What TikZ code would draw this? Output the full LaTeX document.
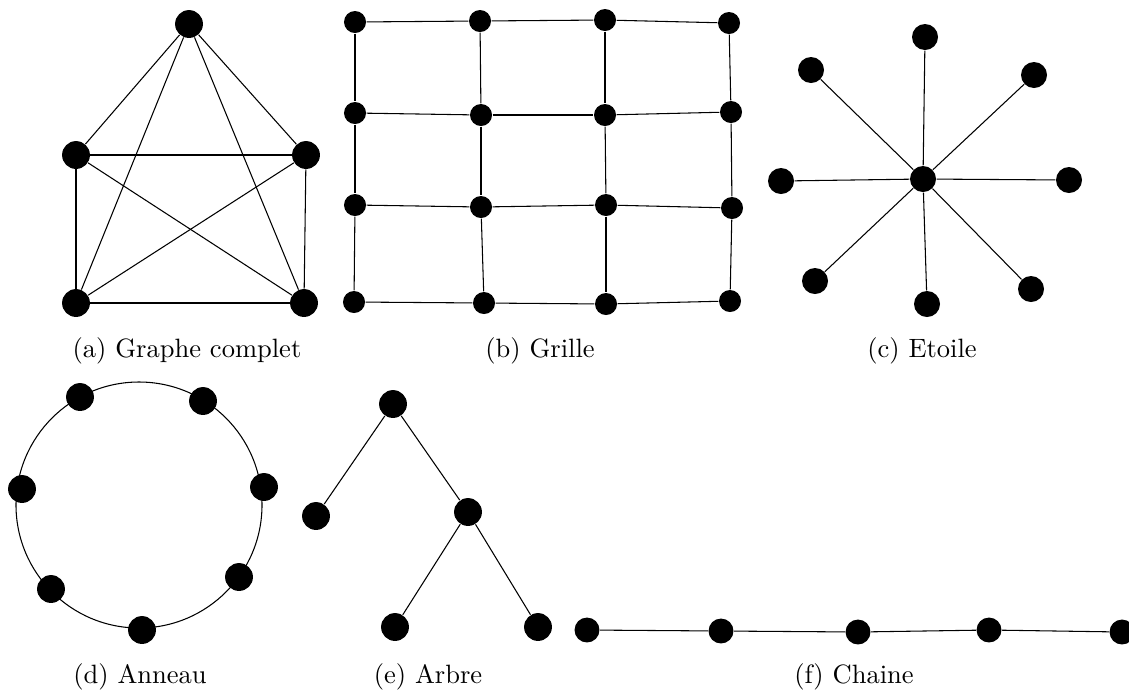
\documentclass[tikz,border=0pt]{standalone}
\usepackage{tikz}
\usetikzlibrary{positioning}

\begin{document}
\begin{tikzpicture}[x=0.377pt,y=-0.377pt,
	vtx/.style={shape=circle,fill=black,inner sep=0pt,minimum size=#1},
	vtx/.default=10.5pt,
	legende/.style={anchor=base}]
	\tikzstyle{every node}=[font=\normalsize]
	\useasboundingbox (0,0) rectangle (1129,690);

	% (a) graphe complet
	\node[vtx] (k1) at (189,24) {};
	\node[vtx] (k2) at (76,155) {};
	\node[vtx] (k3) at (306,155) {};
	\node[vtx] (k4) at (76,303) {};
	\node[vtx] (k5) at (304,303) {};
	\draw
	(k1) edge (k2) (k1) edge (k3) (k1) edge (k4) (k1) edge (k5)
	(k2) edge (k3) (k2) edge (k4) (k2) edge (k5)
	(k3) edge (k4) (k3) edge (k5)
	(k4) edge (k5)
	;
	\node[legende] (capa) at (187,357) {(a) Graphe complet};

	% (b) grille
	\node[vtx=8.3pt] (g11) at (355,22) {};
	\node[vtx=8.3pt] (g12) at (480,21) {};
	\node[vtx=8.3pt] (g13) at (605,20) {};
	\node[vtx=8.3pt] (g14) at (729,23) {};
	\node[vtx=8.3pt] (g21) at (355,113) {};
	\node[vtx=8.3pt] (g22) at (481,115) {};
	\node[vtx=8.3pt] (g23) at (605,115) {};
	\node[vtx=8.3pt] (g24) at (731,112) {};
	\node[vtx=8.3pt] (g31) at (355,205) {};
	\node[vtx=8.3pt] (g32) at (481,207) {};
	\node[vtx=8.3pt] (g33) at (606,205) {};
	\node[vtx=8.3pt] (g34) at (732,208) {};
	\node[vtx=8.3pt] (g41) at (354,302) {};
	\node[vtx=8.3pt] (g42) at (484,303) {};
	\node[vtx=8.3pt] (g43) at (606,304) {};
	\node[vtx=8.3pt] (g44) at (730,301) {};
	\draw
	(g11) edge (g12) (g12) edge (g13) (g13) edge (g14)
	(g21) edge (g22) (g22) edge (g23) (g23) edge (g24)
	(g31) edge (g32) (g32) edge (g33) (g33) edge (g34)
	(g41) edge (g42) (g42) edge (g43) (g43) edge (g44)
	(g11) edge (g21) (g21) edge (g31) (g31) edge (g41)
	(g12) edge (g22) (g22) edge (g32) (g32) edge (g42)
	(g13) edge (g23) (g23) edge (g33) (g33) edge (g43)
	(g14) edge (g24) (g24) edge (g34) (g34) edge (g44)
	;
	\node[legende] (capb) at (540,357) {(b) Grille};

	% (c) etoile
	\node[vtx=9.8pt] (s0) at (923,179) {};
	\node[vtx=9.8pt] (s1) at (925,37) {};
	\node[vtx=9.8pt] (s2) at (1034,75) {};
	\node[vtx=9.8pt] (s3) at (1069,180) {};
	\node[vtx=9.8pt] (s4) at (1031,289) {};
	\node[vtx=9.8pt] (s5) at (927,304) {};
	\node[vtx=9.8pt] (s6) at (815,281) {};
	\node[vtx=9.8pt] (s7) at (781,181) {};
	\node[vtx=9.8pt] (s8) at (811,70) {};
	\draw
	(s0) edge (s1) (s0) edge (s2) (s0) edge (s3) (s0) edge (s4)
	(s0) edge (s5) (s0) edge (s6) (s0) edge (s7) (s0) edge (s8)
	;
	\node[legende] (capc) at (922,357) {(c) Etoile};

	% (d) anneau
	\coordinate (rc) at (139,505);
	\draw (rc) circle[radius=123];
	\node[vtx] (r1) at (80,397) {};
	\node[vtx] (r2) at (203,401) {};
	\node[vtx] (r3) at (264,487) {};
	\node[vtx] (r4) at (239,577) {};
	\node[vtx] (r5) at (142,630) {};
	\node[vtx] (r6) at (51,589) {};
	\node[vtx] (r7) at (22,489) {};
	\node[legende] (capd) at (140,683) {(d) Anneau};

	% (e) arbre
	\node[vtx] (t1) at (393,404) {};
	\node[vtx] (t2) at (316,516) {};
	\node[vtx] (t3) at (468,512) {};
	\node[vtx] (t4) at (395,627) {};
	\node[vtx] (t5) at (538,627) {};
	\draw
	(t1) edge (t2) (t1) edge (t3)
	(t3) edge (t4) (t3) edge (t5)
	;
	\node[legende] (cape) at (428,683) {(e) Arbre};

	% (f) chaine
	\node[vtx=9.4pt] (c1) at (587,630) {};
	\node[vtx=9.4pt] (c2) at (721,631) {};
	\node[vtx=9.4pt] (c3) at (858,632) {};
	\node[vtx=9.4pt] (c4) at (989,630) {};
	\node[vtx=9.4pt] (c5) at (1122,632) {};
	\draw
	(c1) edge (c2) (c2) edge (c3) (c3) edge (c4) (c4) edge (c5)
	;
	\node[legende] (capf) at (854,683) {(f) Chaine};
\end{tikzpicture}
\end{document}
